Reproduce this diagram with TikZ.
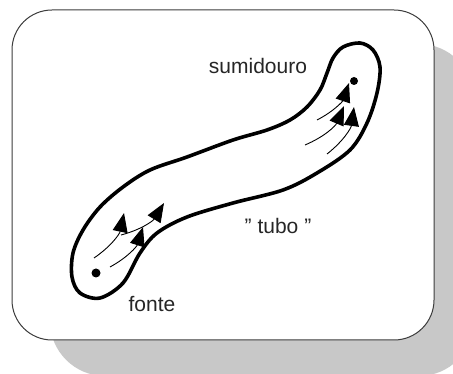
\documentclass[tikz,border=0pt]{standalone}
\usepackage{fontspec}
\setmainfont{Liberation Sans}
\usetikzlibrary{arrows.meta}
\definecolor{shadowgray}{RGB}{200,200,200}
\definecolor{framegray}{RGB}{60,60,60}
\tikzset{
  frame/.style={draw=framegray, line width=1pt, fill=white, rounded corners=40pt},
  tube/.style={draw=black, line width=3.6pt, line join=round},
  flow/.style={draw=black, line width=0.9pt, -{Triangle[length=19pt,width=15pt]}},
  dot/.style={circle, fill=black, inner sep=0pt},
  lbl/.style={font=\fontsize{21}{24}\selectfont, text=black!85, inner sep=0pt}
}
\begin{document}
\begin{tikzpicture}[x=1pt,y=-1pt]
\useasboundingbox (0,0) rectangle (453,374);
\clip (0,0) rectangle (453,374);
% shadow
\fill[shadowgray, rounded corners=55pt] (50,44) rectangle (474,376);
% frame
\path[frame] (12,10) rectangle (434,340);
% tube
\draw[tube] plot[smooth cycle, tension=0.55] coordinates {
 (100,298) (123,283) (140,253) (157,233) (187,217) (233,203) (283,190)
 (317,173) (350,150) (367,123) (377,93) (380,67) (373,50) (360,43)
 (343,47) (333,58) (327,73) (320,90) (307,107) (290,120) (267,130)
 (233,140) (187,157) (150,170) (123,187) (100,207) (83,230) (73,253)
 (72,277) (80,293)};
% source and sink
\node[dot, minimum size=9pt] (src) at (96,273) {};
\node[dot, minimum size=8pt] (snk) at (354,81) {};
% flow arrows
\coordinate (a1s) at (94,258);  \coordinate (a1e) at (124,213);
\coordinate (a2s) at (121,235); \coordinate (a2e) at (164,203);
\coordinate (a3s) at (110,267); \coordinate (a3e) at (143,227);
\coordinate (a4s) at (317,120); \coordinate (a4e) at (349,83);
\coordinate (a5s) at (305,145); \coordinate (a5e) at (344,106);
\coordinate (a6s) at (327,154); \coordinate (a6e) at (354,107);
\draw[flow] (a1s) to[bend right=22] (a1e);
\draw[flow] (a2s) to[bend right=22] (a2e);
\draw[flow] (a3s) to[bend right=22] (a3e);
\draw[flow] (a4s) to[bend right=22] (a4e);
\draw[flow] (a5s) to[bend right=22] (a5e);
\draw[flow] (a6s) to[bend right=22] (a6e);
% labels
\node[lbl] (sumidouro) at (258,66) {sumidouro};
\node[lbl] (tubo) at (278,226) {" tubo "};
\node[lbl] (fonte) at (152,304) {fonte};
\end{tikzpicture}
\end{document}
